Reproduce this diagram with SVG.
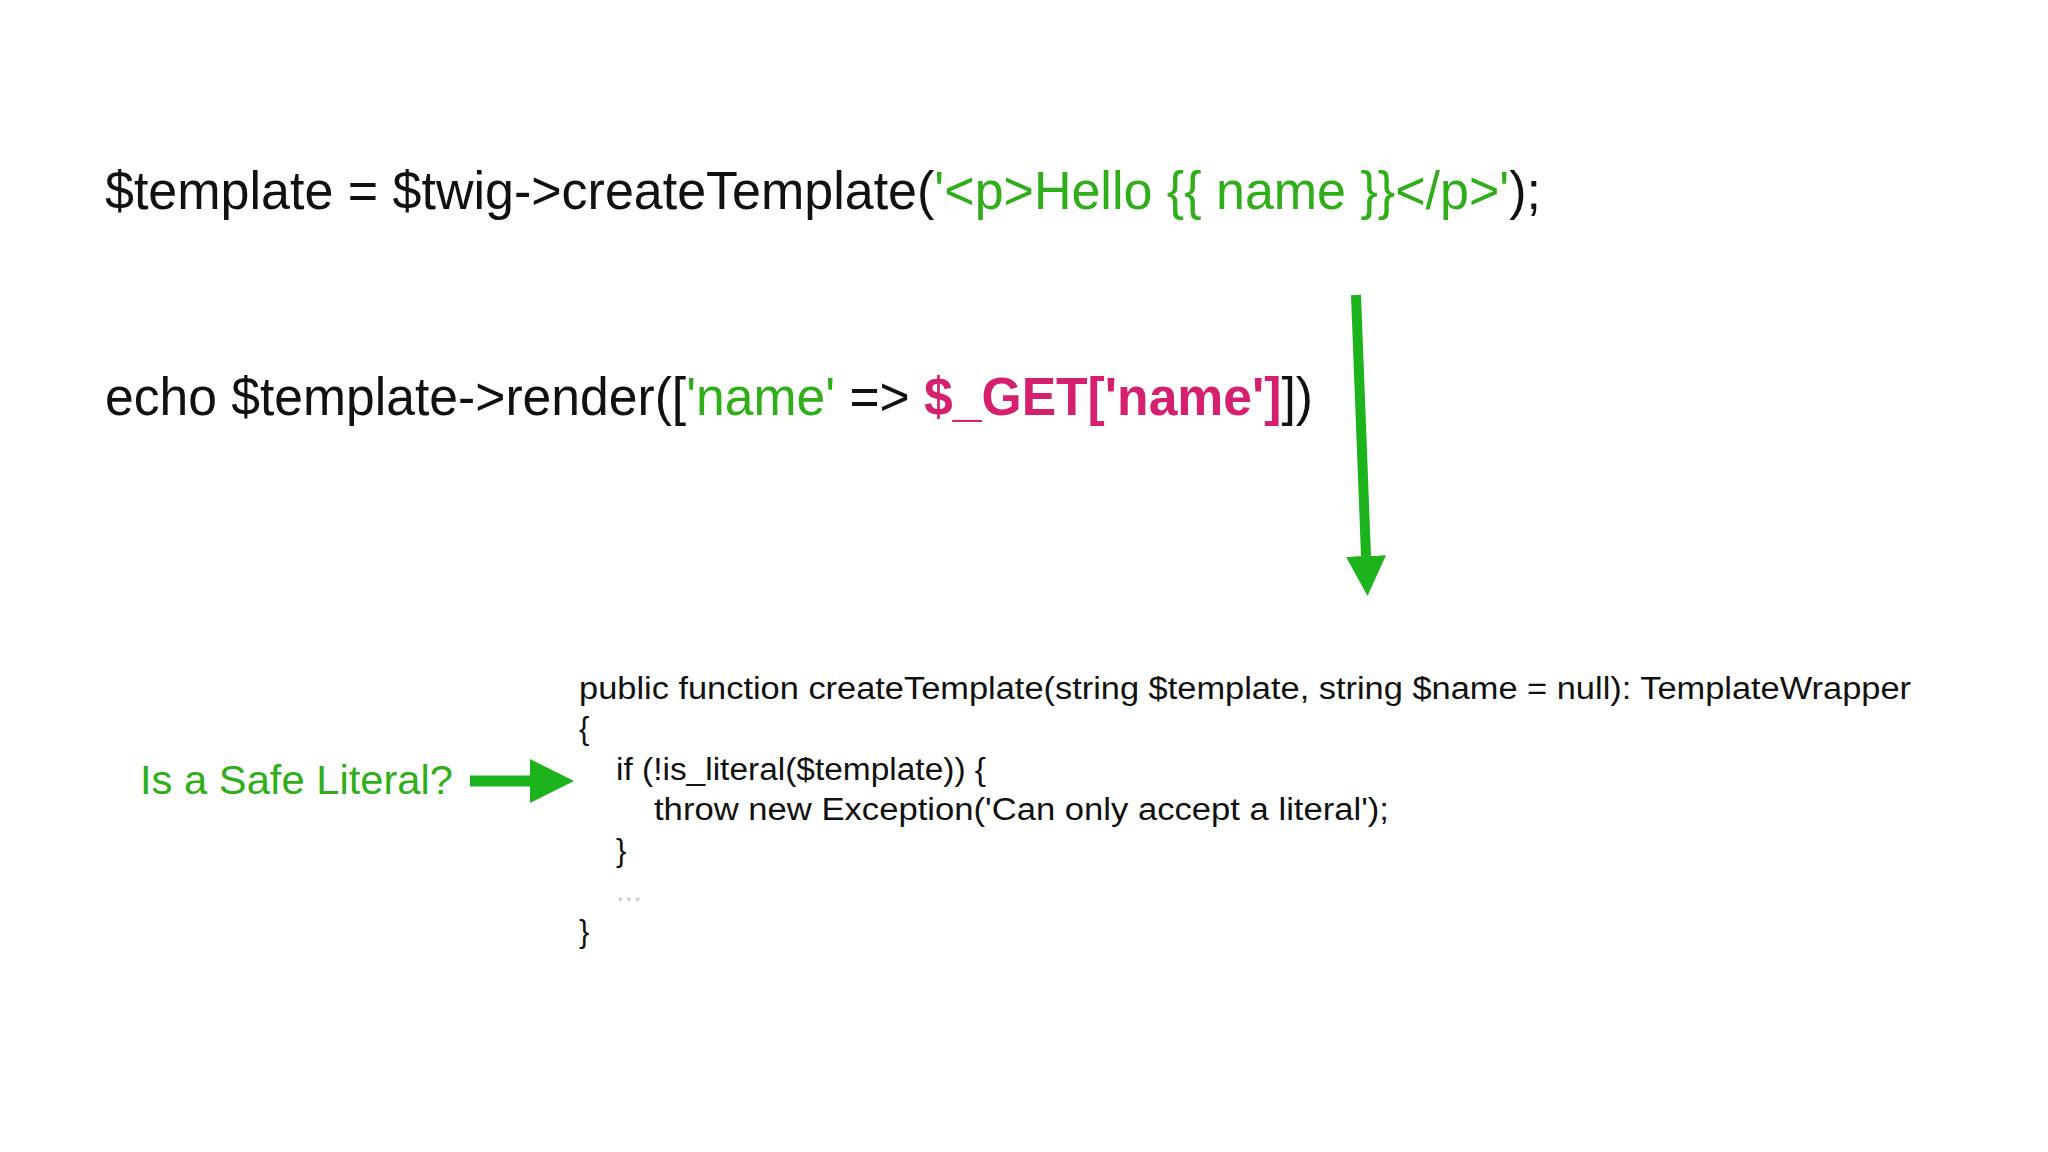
<svg xmlns="http://www.w3.org/2000/svg" width="2048" height="1152" viewBox="0 0 2048 1152">
<style>
text{font-family:"Liberation Sans",Arial,sans-serif;fill:#111}
.big{font-size:54px}
.code{font-size:31px}
.g{fill:#2fae1a}
.p{fill:#d4206f;font-weight:bold}
</style>
<defs>
<marker id="ah" markerWidth="4" markerHeight="4" refX="0" refY="2" orient="auto" markerUnits="strokeWidth"><path d="M0,0 L4,2 L0,4 Z" fill="#1db31d"/></marker>
</defs>
<rect width="2048" height="1152" fill="#fff"/>
<g id="line1"><text class="big" x="105" y="209" textLength="1436" lengthAdjust="spacingAndGlyphs">$template = $twig-&gt;createTemplate(<tspan class="g">'&lt;p&gt;Hello {{ name }}&lt;/p&gt;'</tspan>);</text></g>
<g id="line2"><text class="big" x="105" y="415" textLength="1208" lengthAdjust="spacingAndGlyphs">echo $template-&gt;render([<tspan class="g">'name'</tspan> =&gt; <tspan class="p">$_GET['name']</tspan>])</text></g>
<g id="code">
<text class="code" x="579" y="699" textLength="1332" lengthAdjust="spacingAndGlyphs">public function createTemplate(string $template, string $name = null): TemplateWrapper</text>
<text class="code" x="579" y="739">{</text>
<text class="code" x="616" y="780" textLength="370" lengthAdjust="spacingAndGlyphs">if (!is_literal($template)) {</text>
<text class="code" x="654" y="820" textLength="735" lengthAdjust="spacingAndGlyphs">throw new Exception('Can only accept a literal');</text>
<text class="code" x="616" y="861">}</text>
<text class="code" x="616" y="901" style="fill:#ccc">...</text>
<text class="code" x="579" y="942">}</text>
</g>
<g id="label"><text class="g" x="140" y="794" font-size="40" textLength="313" lengthAdjust="spacingAndGlyphs">Is a Safe Literal?</text></g>
<g id="connectors">
<line x1="1356" y1="295" x2="1366" y2="556" stroke="#1db31d" stroke-width="10" marker-end="url(#ah)"/>
<line x1="470" y1="781" x2="530" y2="781" stroke="#1db31d" stroke-width="11" marker-end="url(#ah)"/>
</g>
</svg>
